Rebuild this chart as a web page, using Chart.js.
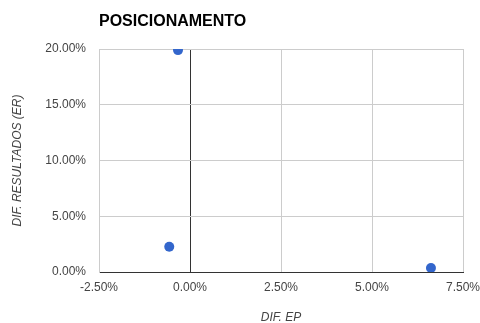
<!DOCTYPE html>
<html>
<head>
<meta charset="utf-8">
<script src="https://cdn.jsdelivr.net/npm/chart.js@4"></script>
<style>
  html, body { margin: 0; padding: 0; background: #fff; }
  #wrap { width: 480px; height: 323px; }
</style>
</head>
<body>
<div id="wrap"><canvas id="myChart" width="480" height="323"></canvas></div>
<script>
const chartTitle = "POSICIONAMENTO";
const xTitle = "DIF. EP";
const yTitle = "DIF. RESULTADOS (ER)";
// percent values
const difEP = [-0.33, -0.57, 6.62];
const difER = [19.9, 2.27, 0.36];

const points = difEP.map((x, i) => ({ x: x, y: difER[i] }));

const titlePlugin = {
  id: "leftTitle",
  afterDraw(chart) {
    const c = chart.ctx;
    c.save();
    c.font = "bold 16px 'Liberation Sans', Arial, sans-serif";
    c.fillStyle = "#000";
    c.textBaseline = "middle";
    c.textAlign = "left";
    c.fillText(chartTitle, chart.chartArea.left, 22);
    c.restore();
  },
};

const ctx = document.getElementById("myChart").getContext("2d");

const noPad = (scale) => {
  scale.paddingLeft = 0;
  scale.paddingRight = 0;
  scale.paddingTop = 0;
  scale.paddingBottom = 0;
};

const myChart = new Chart(ctx, {
  type: "scatter",
  data: {
    datasets: [
      {
        data: points,
        backgroundColor: "#3366cc",
        borderWidth: 0,
        pointRadius: 5,
        pointHoverRadius: 5,
      },
    ],
  },
  options: {
    responsive: false,
    animation: false,
    layout: { padding: { top: 49, right: 17, left: 0, bottom: 0 } },
    scales: {
      x: {
        type: "linear",
        min: -2.5,
        max: 7.5,
        afterFit: (scale) => { scale.height = 51; noPad(scale); },
        ticks: {
          stepSize: 2.5,
          padding: 8,
          color: "#444",
          font: { family: "'Liberation Sans', Arial, sans-serif", size: 12 },
          callback: (v) => v.toFixed(2) + "%",
        },
        grid: {
          drawTicks: false,
          color: (c) => (c.tick && c.tick.value === 0 ? "#333" : "#cccccc"),
        },
        border: { color: "#333" },
        title: {
          display: true,
          text: xTitle,
          color: "#444",
          padding: { top: 0, bottom: -2 },
          font: { family: "'Liberation Sans', Arial, sans-serif", size: 12, style: "italic" },
        },
      },
      y: {
        min: 0,
        max: 20,
        afterFit: (scale) => { scale.width = 99; noPad(scale); },
        ticks: {
          stepSize: 5,
          padding: 13,
          color: "#444",
          font: { family: "'Liberation Sans', Arial, sans-serif", size: 12 },
          callback: (v) => v.toFixed(2) + "%",
        },
        grid: {
          drawTicks: false,
          color: "#cccccc",
        },
        border: { color: "#cccccc" },
        title: {
          display: true,
          text: yTitle,
          color: "#444",
          padding: { top: 10, bottom: 0 },
          font: { family: "'Liberation Sans', Arial, sans-serif", size: 12, style: "italic" },
        },
      },
    },
    plugins: {
      legend: { display: false },
      tooltip: { enabled: false },
    },
  },
  plugins: [titlePlugin],
});
</script>
</body>
</html>
